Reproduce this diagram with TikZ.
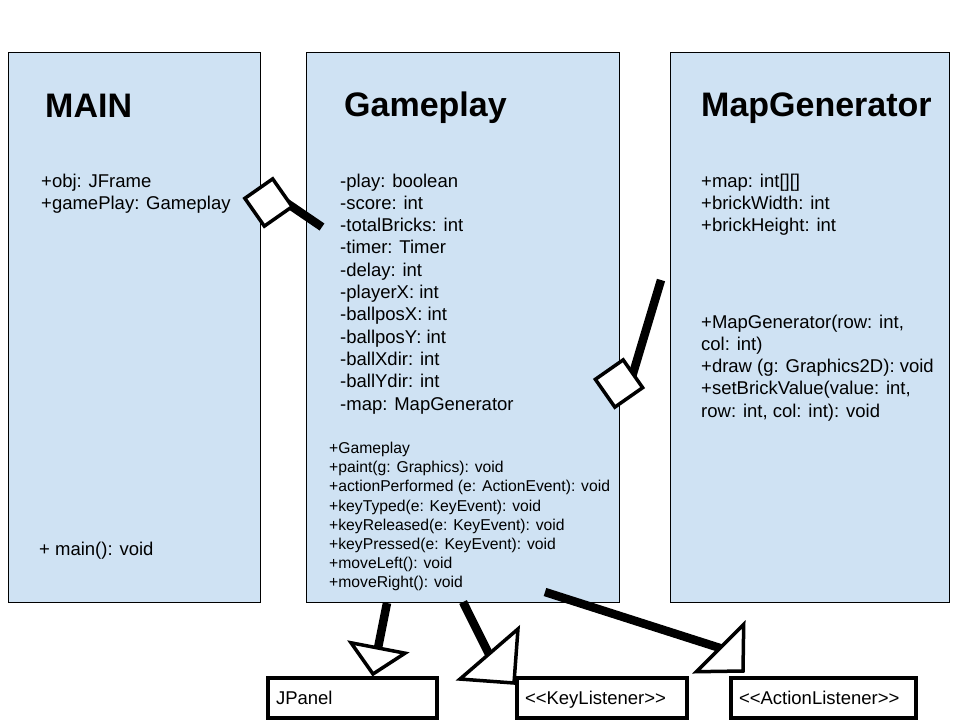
\documentclass[tikz,border=0pt]{standalone}
\usepackage{fontspec}
\setmainfont{Liberation Sans}
\usetikzlibrary{shapes.geometric,calc}
\definecolor{classfill}{HTML}{CFE2F3}
\pgfdeclarelayer{back}
\pgfdeclarelayer{wires}
\pgfsetlayers{back,wires,main}
\newcommand{\umlrows}[1]{\vtop{\lineskiplimit=-100pt #1}}
\newcommand{\urow}[1]{\hbox{#1}}
\newcommand{\dlt}{<\kern0pt<}
\newcommand{\dgt}{>\kern0pt>}
\tikzset{
  classbox/.style={draw=black, line width=1pt, fill=classfill, anchor=north west,
    inner sep=0pt, outer sep=0pt, minimum height=550pt},
  heading/.style={anchor=base west, inner sep=0pt, font=\fontsize{34}{40}\selectfont\bfseries},
  attr/.style={anchor=base west, inner sep=0pt, font=\fontsize{18.5}{22.3}\selectfont},
  ops/.style={anchor=base west, inner sep=0pt, font=\fontsize{15.7}{19.2}\selectfont},
  iface/.style={draw=black, line width=3.8pt, fill=white, anchor=north west, outer sep=0pt,
    minimum height=40pt, inner xsep=8pt, inner ysep=0pt, align=left,
    text height=13.5pt, text depth=0pt, font=\fontsize{18.5}{22.3}\selectfont},
  aggr/.style={diamond, aspect=1, draw=black, line width=3.5pt, fill=white,
    minimum width=48pt, minimum height=48pt, inner sep=0pt, outer sep=0pt, rotate=-10},
  real/.style={isosceles triangle, isosceles triangle stretches, draw=black,
    line width=3.5pt, fill=white, inner sep=0pt, outer sep=0pt, anchor=apex},
  wire/.style={line width=8.5pt, draw=black}
}
\begin{document}
\begin{tikzpicture}[x=1pt,y=-1pt]
\useasboundingbox (0,0) rectangle (960,720);
\begin{pgfonlayer}{back}
\fill[white] (0,0) rectangle (960,720);
\node[classbox, minimum width=252pt] (main) at (8,52) {};
\node[classbox, minimum width=313pt] (gameplay) at (306,52) {};
\node[classbox, minimum width=279pt] (mapgen) at (670,52) {};
\end{pgfonlayer}

% titles
\node[heading] (main-title) at (45,117) {MAIN};
\node[heading] (gameplay-title) at (344,116) {Gameplay};
\node[heading] (mapgen-title) at (701,116) {MapGenerator};

% MAIN
\node[attr] (main-attr) at (41,187) {\umlrows{\urow{+obj: JFrame}\urow{+gamePlay: Gameplay}}};
\node[attr] (main-ops) at (39,555) {+ main(): void};

% Gameplay
\node[attr] (gameplay-attr) at (340,187) {\umlrows{%
  \urow{-play: boolean}\urow{-score: int}\urow{-totalBricks: int}\urow{-timer: Timer}%
  \urow{-delay: int}\urow{-playerX: int}\urow{-ballposX: int}\urow{-ballposY: int}%
  \urow{-ballXdir: int}\urow{-ballYdir: int}\urow{-map: MapGenerator}}};
\node[ops] (gameplay-ops) at (329,453.5) {\umlrows{%
  \urow{+Gameplay}\urow{+paint(g: Graphics): void}%
  \urow{+actionPerformed (e: ActionEvent): void}\urow{+keyTyped(e: KeyEvent): void}%
  \urow{+keyReleased(e: KeyEvent): void}\urow{+keyPressed(e: KeyEvent): void}%
  \urow{+moveLeft(): void}\urow{+moveRight(): void}}};

% MapGenerator
\node[attr] (mapgen-attr) at (701,187) {\umlrows{%
  \urow{+map: int[][]}\urow{+brickWidth: int}\urow{+brickHeight: int}}};
\node[attr] (mapgen-ops) at (701,328) {\umlrows{%
  \urow{+MapGenerator(row: int,}\urow{col: int)}\urow{+draw (g: Graphics2D): void}%
  \urow{+setBrickValue(value: int,}\urow{row: int, col: int): void}}};

% interfaces / superclass
\node[iface, text width=153pt] (jpanel) at (268,678) {JPanel};
\node[iface, text width=154pt] (keylistener) at (517,678) {\dlt KeyListener\dgt};
\node[iface, text width=169pt] (actionlistener) at (731,678) {\dlt ActionListener\dgt};

% aggregation diamonds
\node[aggr] (agg1) at (268.5,202.5) {};
\node[aggr] (agg2) at (619,383.5) {};

% generalisation / realisation triangles
\node[real, minimum height=26.5pt, minimum width=55pt, rotate=-100.9] (gen1) at (373,674) {};
\node[real, minimum height=38.3pt, minimum width=76.6pt, rotate=-49.2] (gen2) at (514,683) {};
\node[real, minimum height=32.5pt, minimum width=67pt, rotate=-45] (gen3) at (743,671) {};

% free ends
\coordinate (w1) at (322,227);
\coordinate (w2) at (661,280);
\coordinate (s1) at (387,603);
\coordinate (s2) at (463,602);
\coordinate (s3) at (545,592);

\begin{pgfonlayer}{wires}
\draw[wire] ($(w1)!1.25!(agg1.east)$) -- (w1);
\draw[wire] ($(w2)!1.12!(agg2.north east)$) -- (w2);
\draw[wire] (s1) -- ($(s1)!1.15!(gen1.lower side)$);
\draw[wire] (s2) -- ($(s2)!1.15!(gen2.lower side)$);
\draw[wire] (s3) -- ($(s3)!1.08!(gen3.lower side)$);
\end{pgfonlayer}
\end{tikzpicture}
\end{document}
